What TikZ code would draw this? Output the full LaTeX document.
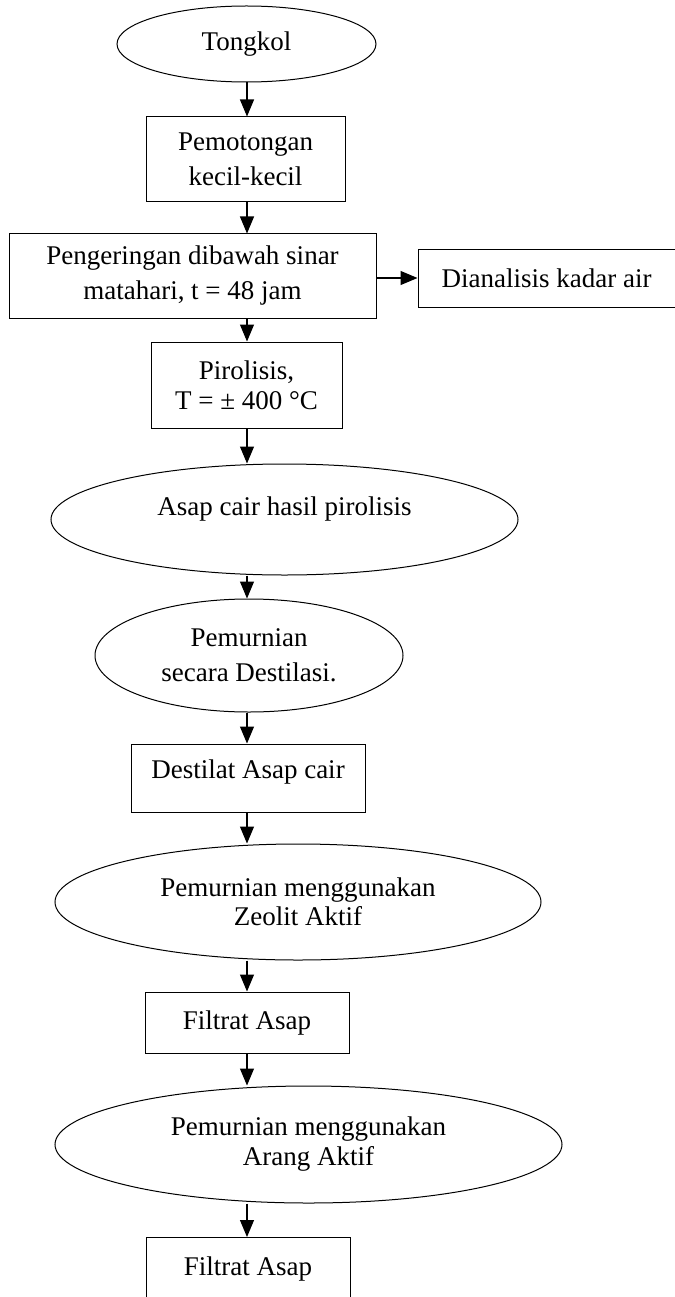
\documentclass[tikz,border=0pt]{standalone}
\usepackage{fontspec}
\setmainfont{Liberation Serif}
\usetikzlibrary{shapes.geometric}
\usetikzlibrary{arrows.meta}

\begin{document}
\begin{tikzpicture}[x = 1pt, y = -1pt,
    box/.style = {draw, line width = 1pt, rectangle, inner sep = 0pt, align = center,
        font = \fontsize{27}{30}\selectfont},
    oval/.style = {draw, line width = 1pt, ellipse, inner sep = 0pt, align = center,
        font = \fontsize{27}{30}\selectfont},
    flow/.style = {line width = 1.1pt, -{Triangle[length = 17pt, width = 14pt]}}]
\useasboundingbox (0, 0) rectangle (674, 1297);
\coordinate (axis) at (247, 0);

\node [oval, minimum width = 259pt, minimum height = 76pt] (tongkol) at (246.5, 44) {Tongkol};
\node [box, minimum width = 199pt, minimum height = 85pt, font = \fontsize{27}{35}\selectfont]
    (potong) at (245.5, 159.5) {Pemotongan\\kecil-kecil};
\node [box, minimum width = 367pt, minimum height = 84pt, font = \fontsize{27}{35}\selectfont]
    (kering) at (192.5, 276) {Pengeringan dibawah sinar\\matahari, t = 48 jam};
\node [box, minimum width = 257pt, minimum height = 58pt] (analisis) at (546.5, 278) {Dianalisis kadar air};
\node [box, minimum width = 191pt, minimum height = 86pt] (pirolisis) at (246.5, 385)
    {Pirolisis,\\ T = ± 400 °C};
\node [oval, minimum width = 467pt, minimum height = 111pt, text depth = 26pt]
    (asap) at (284.5, 519.5) {Asap cair hasil pirolisis};
\node [oval, minimum width = 308pt, minimum height = 113pt, font = \fontsize{27}{35}\selectfont]
    (destilasi) at (249, 655.5) {Pemurnian\\secara Destilasi.};
\node [box, minimum width = 234pt, minimum height = 68pt, text depth = 18pt]
    (destilat) at (248, 778) {Destilat Asap cair};
\node [oval, minimum width = 486pt, minimum height = 116pt, font = \fontsize{27}{29}\selectfont]
    (zeolit) at (298, 902) {Pemurnian menggunakan\\Zeolit Aktif};
\node [box, minimum width = 204pt, minimum height = 61pt] (filtrat1) at (247, 1022.5) {Filtrat Asap};
\node [oval, minimum width = 507pt, minimum height = 117pt]
    (arang) at (308.5, 1144.5) {Pemurnian menggunakan\\Arang Aktif};
\node [box, minimum width = 204pt, minimum height = 62pt, anchor = north]
    (filtrat2) at (248, 1237) {Filtrat Asap};

\draw [flow] (tongkol.south -| axis) -- (potong.north -| axis);
\draw [flow] (potong.south -| axis) -- (kering.north -| axis);
\draw [flow] (kering.east |- analisis.west) -- (analisis.west);
\draw [flow] (kering.south -| axis) -- (pirolisis.north -| axis);
\draw [flow] (pirolisis.south -| axis) -- (asap.north -| axis);
\draw [flow] (asap.south -| axis) -- (destilasi.north -| axis);
\draw [flow] (destilasi.south -| axis) -- (destilat.north -| axis);
\draw [flow] (destilat.south -| axis) -- (zeolit.north -| axis);
\draw [flow] (zeolit.south -| axis) -- (filtrat1.north -| axis);
\draw [flow] (filtrat1.south -| axis) -- (arang.north -| axis);
\draw [flow] (arang.south -| axis) -- (filtrat2.north -| axis);
\end{tikzpicture}
\end{document}
